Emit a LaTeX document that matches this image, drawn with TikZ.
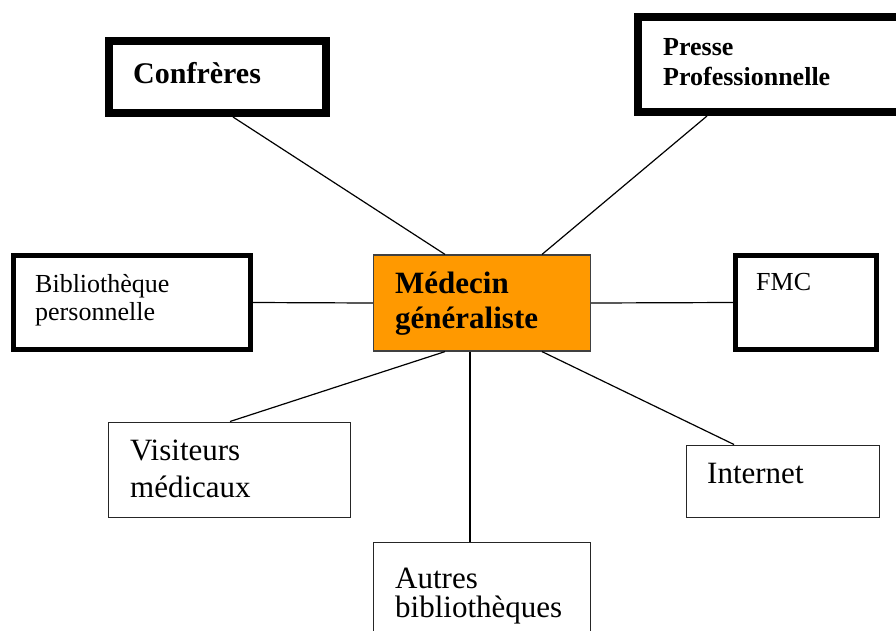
\documentclass[tikz,border=0pt]{standalone}
\usepackage{fontspec}
\setmainfont{Liberation Serif}
\definecolor{medorange}{HTML}{FF9900}
\begin{document}
\begin{tikzpicture}[x=1pt,y=-1pt,
  box/.style={draw=black!85, line width=1pt, rectangle, inner sep=0pt, fill=white},
  thickbox/.style={draw=black, line width=8pt, rectangle, inner sep=0pt, fill=white},
  midbox/.style={draw=black, line width=5pt, rectangle, inner sep=0pt, fill=white},
  centrebox/.style={draw=black!75, line width=1.2pt, rectangle, inner sep=0pt, fill=medorange},
  link/.style={draw=black, line width=1.2pt},
  lbl/.style={anchor=base west, inner sep=0pt},
  bigtxt/.style={font=\fontsize{31}{36}\selectfont},
  bigbold/.style={font=\fontsize{31}{36}\selectfont\bfseries},
  midtxt/.style={font=\fontsize{26}{30}\selectfont},
  midbold/.style={font=\fontsize{26}{30}\selectfont\bfseries},
  confbold/.style={font=\fontsize{30}{34}\selectfont\bfseries}
]
\useasboundingbox (0,0) rectangle (896,630);
\clip (0,0) rectangle (896,630);

% boxes
\node[thickbox, minimum width=217pt, minimum height=72pt] (conf) at (217.5,77) {};
\node[thickbox, minimum width=320pt, minimum height=95pt] (presse) at (798,64.5) {};
\node[midbox, minimum width=237pt, minimum height=94pt] (bib) at (132,302.5) {};
\node[centrebox, minimum width=217pt, minimum height=96pt] (med) at (482,303) {};
\node[midbox, minimum width=141pt, minimum height=94pt] (fmc) at (806,302.5) {};
\node[box, minimum width=242pt, minimum height=95pt] (vis) at (229,469.5) {};
\node[box, minimum width=193pt, minimum height=72pt] (inet) at (782.5,481) {};
\node[box, minimum width=217pt, minimum height=118pt] (autres) at (482,601) {};

% labels
\node[lbl, confbold] (tconf) at (133,83) {Confrères};
\node[lbl, midbold] (tpresse1) at (663,55) {Presse};
\node[lbl, midbold] (tpresse2) at (663,85) {Professionnelle};
\node[lbl, midtxt] (tbib1) at (35,292) {Bibliothèque};
\node[lbl, midtxt] (tbib2) at (35,320) {personnelle};
\node[lbl, bigbold] (tmed1) at (395,293) {Médecin};
\node[lbl, bigbold] (tmed2) at (395,328) {généraliste};
\node[lbl, midtxt] (tfmc) at (756,290) {FMC};
\node[lbl, bigtxt] (tvis1) at (130,460) {Visiteurs};
\node[lbl, bigtxt] (tvis2) at (130,497) {médicaux};
\node[lbl, bigtxt] (tinet) at (707,483) {Internet};
\node[lbl, bigtxt] (taut1) at (395,588) {Autres};
\node[lbl, bigtxt] (taut2) at (395,617) {bibliothèques};

% connectors
\draw[link] ([xshift=15.5pt]conf.south) -- ([xshift=-37pt]med.north);
\draw[link] ([xshift=-91pt]presse.south) -- ([xshift=60pt]med.north);
\draw[link] (bib.east) -- (med.west);
\draw[link] (med.east) -- (fmc.west);
\draw[link] ([xshift=1pt]vis.north) -- ([xshift=-37pt]med.south);
\draw[link] ([xshift=-48.5pt]inet.north) -- ([xshift=60pt]med.south);
\draw[link] ([xshift=-12pt]med.south) -- ([xshift=-12pt]autres.north);
\end{tikzpicture}
\end{document}
